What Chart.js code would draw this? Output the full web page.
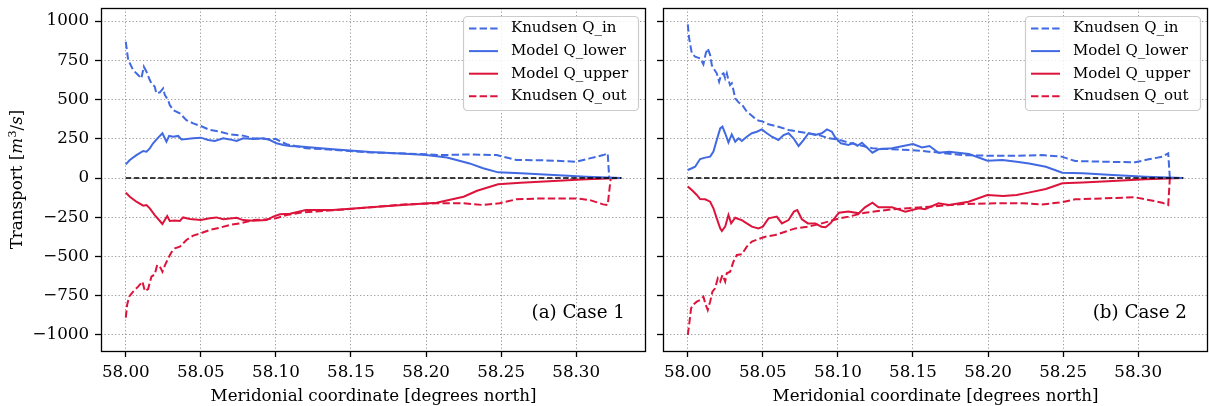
<!DOCTYPE html>
<html>
<head>
<meta charset="utf-8">
<script src="https://cdn.jsdelivr.net/npm/chart.js@4/dist/chart.umd.min.js"></script>
<style>
html,body{margin:0;padding:0;background:#fff;}
#wrap{position:relative;width:1209px;height:406px;overflow:hidden;}
#p1{position:absolute;left:0;top:0;width:650px;height:406px;}
#p2{position:absolute;left:650px;top:0;width:559px;height:406px;}
</style>
</head>
<body>
<div id="wrap">
  <div id="p1"><canvas id="c1"></canvas></div>
  <div id="p2"><canvas id="c2"></canvas></div>
</div>
<script>
// ---------- tick labels / axes ----------
const xTicks = [58.00, 58.05, 58.10, 58.15, 58.20, 58.25, 58.30];
const yTicks = [-1000, -750, -500, -250, 0, 250, 500, 750, 1000];
const xRange = [57.9835, 58.3465];
const yRange = [-1102, 1083];
const seriesLabels = ['Knudsen Q_in', 'Model Q_lower', 'Model Q_upper', 'Knudsen Q_out'];
const panelLabels = ['(a) Case 1', '(b) Case 2'];
const xTitle = 'Meridonial coordinate [degrees north]';
const zeroX = [58.0, 58.33];
const zeroY = [0, 0];

// ---------- Case 1 ----------
const c1InX = [58.0000,58.0016,58.0049,58.0082,58.0104,58.0120,58.0138,58.0160,58.0171,58.0193,58.0204,58.0227,58.0249,58.0260,58.0282,58.0293,58.0316,58.0360,58.0404,58.0449,58.0500,58.0560,58.0627,58.0693,58.0782,58.0849,58.0938,58.1000,58.1071,58.1200,58.1380,58.1630,58.1800,58.2004,58.2090,58.2290,58.2470,58.2600,58.2780,58.3000,58.3090,58.3180,58.3210,58.3220,58.3300];
const c1InY = [868,752,688,656,635,709,677,624,603,582,539,546,571,529,497,465,433,412,369,348,331,306,295,278,270,253,248,248,215,190,180,163,158,151,146,150,146,115,113,104,125,146,157,0,0];

const c1LowX = [58.0000,58.0027,58.0071,58.0116,58.0138,58.0160,58.0182,58.0216,58.0244,58.0260,58.0271,58.0289,58.0316,58.0349,58.0371,58.0404,58.0449,58.0500,58.0549,58.0593,58.0649,58.0693,58.0738,58.0782,58.0849,58.0916,58.0960,58.1004,58.1049,58.1093,58.1160,58.1380,58.1630,58.1890,58.2000,58.2140,58.2290,58.2380,58.2480,58.2630,58.2850,58.3070,58.3300];
const c1LowY = [87,115,146,172,168,189,221,257,285,253,231,268,263,268,246,248,253,257,242,236,253,246,236,253,248,253,242,221,210,204,200,183,165,153,146,131,93,62,36,30,19,8,0];

const c1UpX = [58.0000,58.0027,58.0071,58.0116,58.0138,58.0160,58.0193,58.0227,58.0244,58.0260,58.0276,58.0293,58.0327,58.0360,58.0382,58.0427,58.0500,58.0560,58.0604,58.0649,58.0738,58.0782,58.0849,58.0938,58.0982,58.1027,58.1093,58.1200,58.1380,58.1630,58.1890,58.2070,58.2250,58.2340,58.2480,58.2630,58.2850,58.3070,58.3300];
const c1UpY = [-93,-119,-151,-176,-172,-193,-236,-274,-293,-268,-242,-274,-270,-274,-251,-261,-268,-257,-251,-263,-253,-268,-272,-268,-246,-231,-227,-204,-204,-187,-168,-157,-119,-81,-40,-30,-19,-8,0];

const c1OutX = [58.0000,58.0009,58.0022,58.0049,58.0082,58.0111,58.0127,58.0149,58.0171,58.0193,58.0209,58.0231,58.0244,58.0260,58.0282,58.0304,58.0327,58.0360,58.0404,58.0449,58.0500,58.0560,58.0627,58.0693,58.0760,58.0849,58.0938,58.1000,58.1071,58.1160,58.1380,58.1630,58.1850,58.2070,58.2250,58.2380,58.2490,58.2600,58.2780,58.3000,58.3090,58.3180,58.3210,58.3230,58.3300];
const c1OutY = [-890,-809,-756,-724,-692,-660,-720,-707,-628,-614,-554,-571,-597,-558,-512,-473,-448,-437,-395,-367,-352,-331,-316,-299,-289,-268,-263,-257,-236,-221,-206,-187,-168,-161,-161,-172,-161,-136,-130,-130,-140,-168,-172,0,0];

// ---------- Case 2 ----------
const c2InX = [58.0000,58.0009,58.0027,58.0049,58.0082,58.0104,58.0120,58.0133,58.0149,58.0160,58.0171,58.0193,58.0209,58.0222,58.0238,58.0249,58.0260,58.0271,58.0282,58.0293,58.0304,58.0316,58.0338,58.0360,58.0393,58.0427,58.0460,58.0500,58.0538,58.0604,58.0671,58.0738,58.0804,58.0871,58.0938,58.1000,58.1071,58.1230,58.1490,58.1607,58.1830,58.2010,58.2190,58.2360,58.2490,58.2580,58.2760,58.2980,58.3070,58.3160,58.3200,58.3211,58.3300];
const c2InY = [979,890,794,773,762,724,794,826,783,720,699,667,614,656,667,635,667,624,592,603,561,507,482,469,423,397,369,359,342,327,306,295,285,274,253,246,225,189,178,168,146,142,142,146,136,108,104,100,119,136,157,0,0];

const c2LowX = [58.0000,58.0027,58.0049,58.0082,58.0116,58.0149,58.0171,58.0193,58.0216,58.0231,58.0249,58.0271,58.0293,58.0316,58.0338,58.0360,58.0393,58.0427,58.0460,58.0493,58.0527,58.0560,58.0604,58.0638,58.0671,58.0704,58.0738,58.0771,58.0804,58.0849,58.0893,58.0927,58.0960,58.0980,58.1020,58.1070,58.1100,58.1130,58.1160,58.1230,58.1270,58.1360,58.1500,58.1560,58.1610,58.1670,58.1740,58.1873,58.1996,58.2096,58.2190,58.2273,58.2385,58.2495,58.2630,58.2830,58.3050,58.3300];
const c2LowY = [51,62,72,121,130,136,168,242,316,327,285,227,278,231,253,236,263,285,295,310,285,263,242,274,285,253,204,242,285,274,285,310,295,261,221,210,223,205,225,161,183,189,217,195,204,161,168,153,110,115,104,93,72,34,30,19,8,0];

const c2UpX = [58.0000,58.0027,58.0060,58.0082,58.0116,58.0149,58.0171,58.0193,58.0216,58.0227,58.0249,58.0271,58.0289,58.0316,58.0338,58.0360,58.0393,58.0427,58.0471,58.0500,58.0538,58.0593,58.0627,58.0671,58.0707,58.0729,58.0760,58.0800,58.0850,58.0890,58.0918,58.0950,58.1007,58.1070,58.1140,58.1180,58.1230,58.1270,58.1360,58.1450,58.1540,58.1580,58.1670,58.1740,58.1870,58.1996,58.2100,58.2190,58.2270,58.2385,58.2495,58.2630,58.2830,58.3050,58.3300];
const c2UpY = [-55,-76,-108,-134,-136,-151,-193,-257,-321,-338,-310,-236,-289,-253,-261,-268,-289,-310,-321,-310,-257,-246,-289,-268,-214,-204,-263,-289,-289,-310,-314,-289,-221,-214,-225,-187,-157,-187,-187,-214,-193,-199,-161,-172,-151,-108,-115,-108,-93,-70,-34,-28,-19,-8,0];

const c2OutX = [58.0000,58.0009,58.0022,58.0038,58.0060,58.0082,58.0104,58.0120,58.0133,58.0149,58.0164,58.0182,58.0200,58.0216,58.0231,58.0249,58.0260,58.0282,58.0304,58.0327,58.0360,58.0393,58.0427,58.0471,58.0516,58.0582,58.0649,58.0716,58.0804,58.0893,58.1000,58.1071,58.1180,58.1360,58.1607,58.1830,58.2050,58.2230,58.2360,58.2490,58.2580,58.2760,58.2980,58.3070,58.3160,58.3200,58.3211,58.3300];
const c2OutY = [-1000,-936,-830,-805,-788,-777,-756,-809,-841,-788,-724,-703,-639,-660,-618,-660,-607,-597,-533,-490,-486,-437,-405,-389,-374,-363,-342,-321,-310,-289,-260,-246,-221,-199,-183,-166,-161,-161,-168,-155,-136,-130,-123,-140,-157,-172,0,0];

// ---------- helpers ----------
const BLUE = '#4169E1', RED = '#DC143C';
const FONT = '"DejaVu Serif", serif';
const LABEL_PX = 16.7, LEGEND_PX = 15, PANEL_PX = 18.3;
Chart.defaults.font.family = FONT;
Chart.defaults.font.size = LABEL_PX;
Chart.defaults.color = '#000';

function pts(xs, ys) { return xs.map((x, i) => ({x: x, y: ys[i]})); }
function fmtY(v) { return v < 0 ? '\u2212' + Math.abs(v) : String(v); }

function datasets(inX, inY, lowX, lowY, upX, upY, outX, outY) {
  const base = {pointRadius: 0, borderWidth: 2, tension: 0, fill: false};
  const dash = [7.4, 3.2];
  return [
    Object.assign({label: seriesLabels[0], data: pts(inX, inY), borderColor: BLUE, borderDash: dash, order: 1}, base),
    Object.assign({label: seriesLabels[1], data: pts(lowX, lowY), borderColor: BLUE, borderDash: [], order: 2}, base),
    Object.assign({label: seriesLabels[2], data: pts(upX, upY), borderColor: RED, borderDash: [], order: 3}, base),
    Object.assign({label: seriesLabels[3], data: pts(outX, outY), borderColor: RED, borderDash: dash, order: 4}, base),
    {label: '_zero', data: pts(zeroX, zeroY), borderColor: '#000', borderDash: [5.5, 2.6], borderWidth: 1.5, pointRadius: 0, tension: 0, fill: false, order: 0}
  ];
}

const framePlugin = {
  id: 'frame',
  afterDraw(chart) {
    const a = chart.chartArea, ctx = chart.ctx;
    ctx.save();
    ctx.strokeStyle = '#000';
    ctx.lineWidth = 1.3;
    ctx.setLineDash([]);
    ctx.strokeRect(Math.round(a.left) + 0.5, Math.round(a.top) + 0.5, Math.round(a.right - a.left) - 1, Math.round(a.bottom - a.top));
    ctx.restore();
  }
};

const legendPlugin = {
  id: 'mplLegend',
  afterDraw(chart) {
    const ctx = chart.ctx, a = chart.chartArea;
    const items = chart.data.datasets.filter(d => seriesLabels.includes(d.label));
    const w = 175, h = 94;
    const x0 = a.right - 8 - w, y0 = a.top + 8;
    ctx.save();
    ctx.beginPath();
    if (ctx.roundRect) ctx.roundRect(x0 + 0.5, y0 + 0.5, w, h, 4); else ctx.rect(x0 + 0.5, y0 + 0.5, w, h);
    ctx.fillStyle = 'rgba(255,255,255,0.85)';
    ctx.fill();
    ctx.strokeStyle = '#cccccc';
    ctx.lineWidth = 1.2;
    ctx.stroke();
    items.forEach((d, i) => {
      const cy = y0 + 12.5 + i * 22.6;
      ctx.beginPath();
      ctx.strokeStyle = d.borderColor;
      ctx.lineWidth = d.borderWidth;
      ctx.setLineDash(d.borderDash || []);
      ctx.moveTo(x0 + 6, cy);
      ctx.lineTo(x0 + 35, cy);
      ctx.stroke();
      ctx.setLineDash([]);
      ctx.fillStyle = '#000';
      ctx.font = LEGEND_PX + 'px ' + FONT;
      ctx.textBaseline = 'middle';
      ctx.textAlign = 'left';
      ctx.fillText(d.label, x0 + 48, cy);
    });
    ctx.restore();
  }
};

const panelPlugin = {
  id: 'panelLabel',
  afterDraw(chart, args, opts) {
    if (!opts || !opts.text) return;
    const ctx = chart.ctx, a = chart.chartArea;
    ctx.save();
    ctx.fillStyle = '#000';
    ctx.font = PANEL_PX + 'px ' + FONT;
    ctx.textAlign = 'right';
    ctx.textBaseline = 'middle';
    ctx.fillText(opts.text, a.right - 21, a.bottom - 38);
    ctx.restore();
  }
};

const yTitlePlugin = {
  id: 'yTitle',
  afterDraw(chart, args, opts) {
    if (!opts || !opts.display) return;
    const ctx = chart.ctx, a = chart.chartArea;
    const s = LABEL_PX;
    const parts = [
      {t: 'Transport [', f: s + 'px ' + FONT, dy: 0},
      {t: 'm', f: 'italic ' + s + 'px ' + FONT, dy: 0},
      {t: '3', f: (s * 0.7).toFixed(1) + 'px ' + FONT, dy: -s * 0.33},
      {t: '/', f: s + 'px ' + FONT, dy: 0},
      {t: 's', f: 'italic ' + s + 'px ' + FONT, dy: 0},
      {t: ']', f: s + 'px ' + FONT, dy: 0}
    ];
    let total = 0;
    parts.forEach(p => { ctx.font = p.f; p.w = ctx.measureText(p.t).width; total += p.w; });
    ctx.save();
    ctx.translate(opts.x, (a.top + a.bottom) / 2);
    ctx.rotate(-Math.PI / 2);
    ctx.fillStyle = '#000';
    ctx.textBaseline = 'middle';
    ctx.textAlign = 'left';
    let cx = -total / 2;
    parts.forEach(p => { ctx.font = p.f; ctx.fillText(p.t, cx, p.dy); cx += p.w; });
    ctx.restore();
  }
};

const gridStyle = {color: 'rgba(140,140,140,0.85)', lineWidth: 1, tickColor: '#000', tickLength: 6, tickWidth: 1.3};

function makeChart(id, ds, cfg) {
  return new Chart(document.getElementById(id), {
    type: 'line',
    data: {datasets: ds},
    plugins: [framePlugin, legendPlugin, panelPlugin, yTitlePlugin],
    options: {
      responsive: true,
      maintainAspectRatio: false,
      animation: false,
      events: [],
      layout: {padding: {top: 8, right: cfg.padRight, left: 0, bottom: 0}},
      plugins: {
        legend: {display: false},
        tooltip: {enabled: false},
        panelLabel: {text: cfg.panel},
        yTitle: {display: cfg.yTitle, x: 18}
      },
      scales: {
        x: {
          type: 'linear',
          min: xRange[0], max: xRange[1],
          afterBuildTicks: s => { s.ticks = xTicks.map(v => ({value: v})); },
          afterFit: s => { s.height = 55; s.paddingLeft = 0; s.paddingRight = 0; },
          ticks: {autoSkip: false, maxRotation: 0, padding: 6, color: '#000', font: {size: LABEL_PX},
                  callback: v => Number(v).toFixed(2)},
          grid: gridStyle,
          border: {display: false, dash: [1.3, 2.2]},
          title: {display: true, text: xTitle, color: '#000', font: {size: LABEL_PX, lineHeight: 1}, padding: {top: 0, bottom: 1}}
        },
        y: {
          min: yRange[0], max: yRange[1],
          afterBuildTicks: s => { s.ticks = yTicks.map(v => ({value: v})); },
          afterFit: s => { s.width = cfg.yWidth; s.paddingTop = 0; s.paddingBottom = 0; },
          ticks: {display: cfg.yLabels, padding: 6, color: '#000', font: {size: LABEL_PX}, callback: v => fmtY(v)},
          grid: gridStyle,
          border: {display: false, dash: [1.3, 2.2]}
        }
      }
    }
  });
}

makeChart('c1', datasets(c1InX, c1InY, c1LowX, c1LowY, c1UpX, c1UpY, c1OutX, c1OutY),
  {padRight: 4, yWidth: 101, yLabels: true, yTitle: true, panel: panelLabels[0]});
makeChart('c2', datasets(c2InX, c2InY, c2LowX, c2LowY, c2UpX, c2UpY, c2OutX, c2OutY),
  {padRight: 1, yWidth: 13, yLabels: false, yTitle: false, panel: panelLabels[1]});
</script>
</body>
</html>
